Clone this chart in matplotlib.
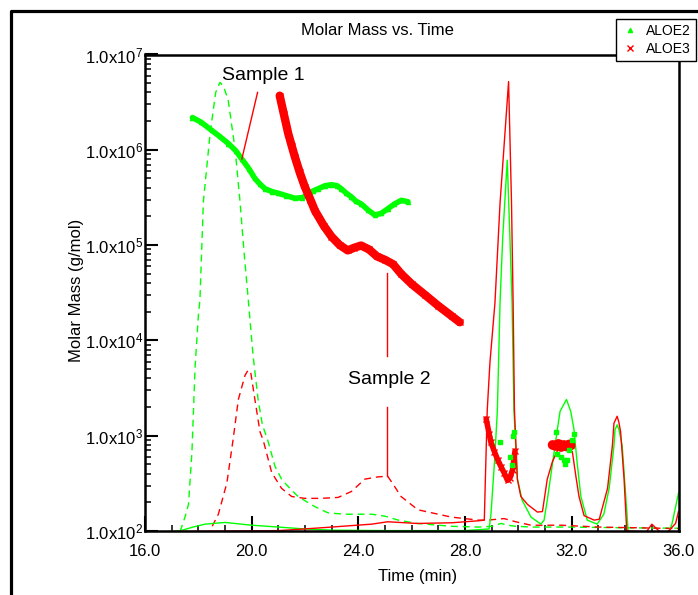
import numpy as np
import matplotlib
matplotlib.use('Agg')
import matplotlib.pyplot as plt
from matplotlib.lines import Line2D
from matplotlib.ticker import FixedLocator, MultipleLocator, LogLocator, NullFormatter

plt.rcParams['font.family'] = ['Liberation Sans', 'DejaVu Sans']
plt.rcParams['mathtext.default'] = 'regular'

GREEN = '#00ff00'
RED = '#ff0000'

# molar mass (light scattering) - ALOE2
aloe2_mm_t = [17.78, 18.1, 18.5, 18.8, 19.13, 19.4, 19.63, 19.9, 20.12, 20.3, 20.5, 20.75, 21.0,
              21.3, 21.62, 21.9, 22.11, 22.3, 22.49, 22.75, 22.99, 23.2, 23.36, 23.55, 23.74,
              23.9, 24.11, 24.35, 24.61, 24.85, 25.1, 25.35, 25.61, 25.86]
aloe2_mm = [2.18e6, 1.95e6, 1.6e6, 1.38e6, 1.16e6, 0.98e6, 0.80e6, 0.63e6, 0.50e6, 0.44e6,
            0.39e6, 0.365e6, 0.35e6, 0.33e6, 0.31e6, 0.315e6, 0.34e6, 0.37e6, 0.39e6, 0.42e6,
            0.43e6, 0.42e6, 0.39e6, 0.35e6, 0.32e6, 0.29e6, 0.27e6, 0.235e6, 0.207e6, 0.215e6,
            0.24e6, 0.27e6, 0.295e6, 0.285e6]
aloe2_pts_t = [29.3, 29.7, 29.74, 29.8, 29.85, 31.4, 31.45, 31.6, 31.7, 31.75, 31.83, 31.9, 32.0, 32.08]
aloe2_pts = [8.5e2, 6.0e2, 4.9e2, 1.0e3, 1.1e3, 1.1e3, 6.5e2, 6.0e2, 5.5e2, 5.0e2, 5.6e2, 7.0e2, 9.0e2, 1.05e3]

# molar mass - ALOE3
aloe3_mm_t = [21.05, 21.2, 21.37, 21.5, 21.62, 21.8, 21.99, 22.2, 22.37, 22.7, 22.99, 23.3, 23.6,
              23.85, 24.1, 24.4, 24.7, 25.0, 25.3, 25.6, 26.0, 26.5, 27.0, 27.5, 27.8]
aloe3_mm = [3.7e6, 2.4e6, 1.48e6, 1.1e6, 8.4e5, 5.8e5, 4.1e5, 3.0e5, 2.3e5, 1.6e5, 1.23e5, 1.0e5,
            8.8e4, 9.4e4, 9.9e4, 9.0e4, 7.6e4, 7.0e4, 6.3e4, 5.0e4, 3.9e4, 3.0e4, 2.3e4, 1.8e4, 1.55e4]
aloe3_v_t = [28.79, 28.9, 28.97, 29.1, 29.22, 29.35, 29.46, 29.59, 29.68, 29.78, 29.87]
aloe3_v = [1.5e3, 1.05e3, 8.5e2, 6.8e2, 5.6e2, 4.7e2, 4.1e2, 3.4e2, 3.6e2, 4.4e2, 6.9e2]
aloe3_c_t = [31.28, 31.4, 31.5, 31.6, 31.7, 31.8, 31.9, 31.96]
aloe3_c = [8.0e2, 7.8e2, 8.2e2, 7.6e2, 8.0e2, 7.7e2, 8.1e2, 7.9e2]

# detector traces (solid)
aloe2_ls_t = [16.0, 17.3, 17.8, 18.25, 19.0, 20.0, 21.0, 22.0, 23.0, 25.0, 28.0, 28.9, 28.97, 29.1,
              29.21, 29.31, 29.41, 29.58, 29.68, 29.76, 29.83, 29.96, 30.14, 30.47,
              30.84, 30.96, 31.08, 31.28, 31.46, 31.56, 31.8, 31.96, 32.08, 32.2, 32.34, 32.58, 32.95,
              33.2, 33.4, 33.58, 33.62, 33.7, 33.77, 33.89, 34.07, 34.12, 35.6, 35.76, 36.0]
aloe2_ls = [95, 100, 110, 118, 123, 115, 110, 105, 102, 101, 101, 105, 150, 520,
            1.85e3, 2.5e4, 1.2e5, 7.8e5, 1.2e5, 2.5e4, 1.85e3, 3.5e2, 2.1e2, 1.4e2,
            1.18e2, 1.3e2, 2.1e2, 5.2e2, 1.17e3, 1.8e3, 2.4e3, 1.8e3, 1.17e3, 5.2e2, 2.3e2, 1.3e2, 1.18e2,
            1.5e2, 2.8e2, 7.8e2, 1.15e3, 1.3e3, 1.15e3, 7.8e2, 1.5e2, 90, 90, 1.2e2, 2.5e2]
aloe3_ls_t = [16.0, 21.0, 21.74, 23.0, 24.5, 25.1, 26.2, 27.5, 28.5, 28.72, 28.76, 28.83, 28.93,
              29.12, 29.31, 29.63, 29.74, 29.8, 29.85, 29.96,
              30.09, 30.34, 30.71, 30.9, 31.08, 31.27, 31.6, 32.02, 32.15, 32.27, 32.46, 32.84, 33.03,
              33.34, 33.52, 33.58, 33.7, 33.76, 33.83, 33.96, 34.06, 34.8, 35.0, 35.3, 35.6, 35.89, 36.0]
aloe3_ls = [98, 101, 104, 110, 118, 125, 120, 122, 128, 130, 3.5e2, 1.85e3, 5.8e3,
            2.5e4, 2.75e5, 5.2e6, 2.75e5, 2.5e4, 1.85e3, 3.5e2,
            2.3e2, 1.9e2, 1.58e2, 1.6e2, 3.5e2, 5.3e2, 8.5e2, 6.8e2, 3.8e2, 2.3e2, 1.45e2, 1.3e2, 1.33e2,
            2.8e2, 7.8e2, 1.35e3, 1.6e3, 1.4e3, 1.1e3, 3.5e2, 1.0e2, 98, 1.18e2, 98, 98, 1.2e2, 1.6e2]

# detector traces (dashed)
aloe2_ri_t = [16.0, 17.2, 17.32, 17.5, 17.63, 17.76, 17.88, 18.0, 18.06, 18.19, 18.44, 18.65, 18.81,
              18.95, 19.12, 19.38, 19.56, 19.72, 19.87, 20.05, 20.24, 20.4, 20.6, 20.87, 21.12, 21.43,
              21.74, 22.37, 22.86, 23.48, 24.0, 24.5, 25.0, 25.5, 26.2, 27.5, 28.5, 29.0, 29.35, 29.6,
              29.9, 30.5, 32.0, 34.0, 36.0]
aloe2_ri = [90, 95, 100, 140, 190, 680, 5.4e3, 1.8e4, 2.7e4, 2.9e5, 1.48e6, 4.0e6, 5.1e6,
            4.6e6, 3.3e6, 1.0e6, 2.9e5, 8.0e4, 2.7e4, 7.0e3, 2.4e3, 1.3e3, 9.0e2, 4.8e2, 3.5e2, 2.8e2,
            2.3e2, 1.8e2, 1.55e2, 1.5e2, 1.5e2, 1.5e2, 1.43e2, 1.3e2, 1.2e2, 1.12e2, 1.1e2, 1.12e2, 1.2e2, 1.15e2,
            1.12e2, 1.1e2, 1.1e2, 1.08e2, 1.07e2]
aloe3_ri_t = [16.0, 18.3, 18.43, 18.75, 19.07, 19.3, 19.5, 19.75, 19.87, 19.97, 20.12, 20.31, 20.43,
              20.75, 21.12, 21.5, 22.0, 22.6, 23.24, 23.74, 24.24, 24.74, 25.1, 25.35, 25.6, 26.23,
              27.48, 28.5, 28.84, 29.46, 29.9, 30.47, 31.6, 33.0, 34.5, 36.0]
aloe3_ri = [90, 95, 100, 150, 320, 900, 2.4e3, 4.3e3, 4.9e3, 4.5e3, 2.4e3, 1.1e3, 9.0e2,
            4.1e2, 2.8e2, 2.3e2, 2.2e2, 2.2e2, 2.25e2, 2.6e2, 3.5e2, 3.7e2, 3.75e2, 2.95e2, 2.3e2, 1.67e2,
            1.4e2, 1.3e2, 1.3e2, 1.35e2, 1.25e2, 1.15e2, 1.15e2, 1.1e2, 1.08e2, 1.06e2]

# annotations
sample1_pos = (20.45, 6.0e6)
sample1_line = ([20.22, 19.63], [4.0e6, 8.0e5])
sample2_pos = (25.16, 3.9e3)
sample2_line_top = ([25.08, 25.08], [5.1e4, 6.8e3])
sample2_line_bot = ([25.08, 25.08], [2.0e3, 3.76e2])

y_ticks = [1e2, 1e3, 1e4, 1e5, 1e6, 1e7]
y_labels = ['1.0x10$^{%d}$' % k for k in range(2, 8)]
x_ticks = [16, 20, 24, 28, 32, 36]

W, H = 698, 595
fig = plt.figure(figsize=(W / 100, H / 100), dpi=100)
ax = fig.add_axes([145 / W, 1 - 531 / H, 533.5 / W, 476.5 / H])

# detector traces
ax.plot(aloe2_ri_t, aloe2_ri, color=GREEN, lw=1.0, ls=(0, (5, 3.5)))
ax.plot(aloe3_ri_t, aloe3_ri, color=RED, lw=1.0, ls=(0, (5, 3.5)))
ax.plot(aloe2_ls_t, aloe2_ls, color=GREEN, lw=1.0)
ax.plot(aloe3_ls_t, aloe3_ls, color=RED, lw=1.0)

# molar mass
ax.plot(aloe2_mm_t, aloe2_mm, color=GREEN, lw=4, marker='^', ms=3, solid_capstyle='round')
ax.plot(aloe3_mm_t, aloe3_mm, color=RED, lw=6, marker='x', ms=4, solid_capstyle='round')
ax.plot(aloe3_v_t, aloe3_v, color=RED, lw=4, marker='x', ms=4, solid_capstyle='round')
ax.plot(aloe3_c_t, aloe3_c, color=RED, lw=7, marker='x', ms=4, solid_capstyle='round')
ax.plot(aloe2_pts_t, aloe2_pts, ls='none', color=GREEN, marker='s', ms=2.5)

# annotations
ax.plot(*sample1_line, color=RED, lw=1)
ax.plot(*sample2_line_top, color=RED, lw=1)
ax.plot(*sample2_line_bot, color=RED, lw=1)
ax.text(*sample1_pos, 'Sample 1', ha='center', va='center', fontsize=14)
ax.text(*sample2_pos, 'Sample 2', ha='center', va='center', fontsize=14)

ax.set_yscale('log')
ax.set_xlim(16, 36)
ax.set_ylim(1e2, 1e7)
ax.yaxis.set_major_locator(FixedLocator(y_ticks))
ax.set_yticklabels(y_labels)
ax.yaxis.set_minor_locator(LogLocator(base=10, subs=np.arange(2, 10)))
ax.yaxis.set_minor_formatter(NullFormatter())
ax.set_xticks(x_ticks)
ax.set_xticklabels(['%.1f' % v for v in x_ticks])
ax.xaxis.set_minor_locator(MultipleLocator(1))

ax.tick_params(axis='both', which='both', direction='in', labelsize=12)
ax.tick_params(axis='x', which='major', length=11, width=1.5, pad=9)
ax.tick_params(axis='y', which='major', length=9, width=1.5, pad=1.5)
ax.tick_params(axis='both', which='minor', length=4, width=1.1)
for s in ax.spines.values():
    s.set_linewidth(1.8)

fig.text(377 / W, 1 - 30.5 / H, 'Molar Mass vs. Time', ha='center', va='center', fontsize=12)
fig.text(418 / W, 1 - 577 / H, 'Time (min)', ha='center', va='center', fontsize=12)
fig.text(77 / W, 1 - 290 / H, 'Molar Mass (g/mol)', ha='center', va='center', rotation=90, fontsize=12)

# outer frame
fig.add_artist(Line2D([11 / W, 11 / W, 1], [0, 1 - 10.5 / H, 1 - 10.5 / H],
                      transform=fig.transFigure, color='k', lw=2.3))

handles = [Line2D([], [], ls='none', marker='^', color=GREEN, ms=3),
           Line2D([], [], ls='none', marker='x', color=RED, ms=4, mew=1)]
leg = fig.legend(handles, ['ALOE2', 'ALOE3'], loc='upper right', bbox_to_anchor=(696 / W, 1 - 19 / H),
                 fontsize=10, frameon=True, fancybox=False, edgecolor='k', framealpha=1,
                 borderaxespad=0, borderpad=0.35, labelspacing=0.3, handlelength=1.2, handletextpad=0.6)
leg.get_frame().set_linewidth(1.0)

fig.savefig('out.png', dpi=100)
